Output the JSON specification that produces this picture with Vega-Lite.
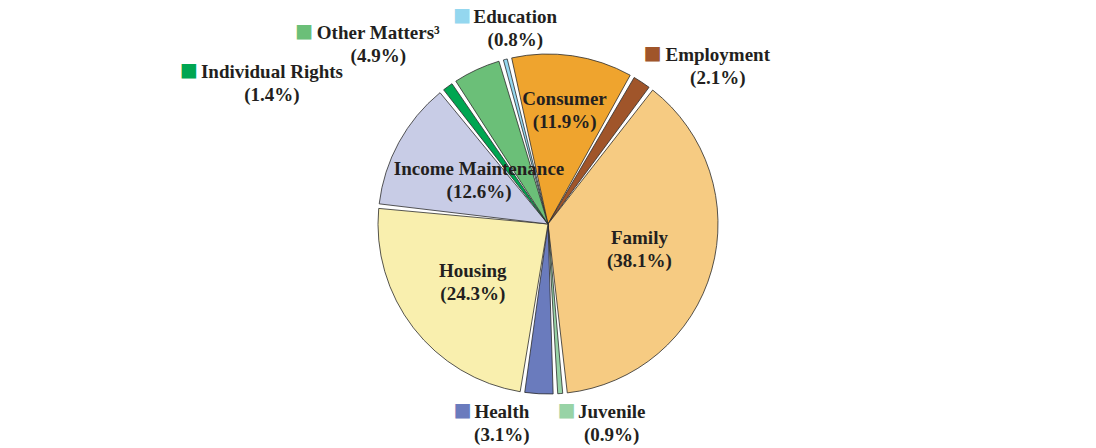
{
  "$schema": "https://vega.github.io/schema/vega-lite/v6.json",
  "width": 1096,
  "height": 448,
  "autosize": {"type": "none"},
  "padding": 0,
  "background": "white",
  "view": {"stroke": null},
  "config": {"text": {"font": "Liberation Serif", "fontWeight": "bold", "fontSize": 19, "color": "#231f20", "lineBreak": "\n", "lineHeight": 23, "align": "center", "baseline": "middle"}},
  "data": {"values": [
    {"idx": 1, "name": "Education", "value": 0.8},
    {"idx": 2, "name": "Consumer", "value": 11.9},
    {"idx": 3, "name": "Employment", "value": 2.1},
    {"idx": 4, "name": "Family", "value": 38.1},
    {"idx": 5, "name": "Juvenile", "value": 0.9},
    {"idx": 6, "name": "Health", "value": 3.1},
    {"idx": 7, "name": "Housing", "value": 24.3},
    {"idx": 8, "name": "Income Maintenance", "value": 12.6},
    {"idx": 9, "name": "Individual Rights", "value": 1.4},
    {"idx": 10, "name": "Other Matters³", "value": 4.9}
  ]},
  "transform": [
    {"stack": "value", "groupby": [], "sort": [{"field": "idx", "order": "ascending"}], "as": ["s0", "s1"]},
    {"calculate": "(datum.s0 + datum.s1) / 2", "as": "mid"},
    {"calculate": "datum.name + '\\n(' + format(datum.value, '.1f') + '%)'", "as": "label"}
  ],
  "encoding": {
    "theta": {"field": "mid", "type": "quantitative", "scale": {"domain": [0, 100.1], "range": [-0.279, 6.004]}}
  },
  "layer": [
    {
      "mark": {"type": "arc", "outerRadius": 170, "padAngle": 0.027, "stroke": "#2b2b2b", "strokeWidth": 0.8},
      "encoding": {
        "theta": {"field": "s0", "type": "quantitative", "scale": {"domain": [0, 100.1], "range": [-0.279, 6.004]}},
        "theta2": {"field": "s1"},
        "color": {"field": "name", "type": "nominal", "legend": null,
          "scale": {
            "domain": ["Education", "Consumer", "Employment", "Family", "Juvenile", "Health", "Housing", "Income Maintenance", "Individual Rights", "Other Matters³"],
            "range": ["#94d7ef", "#efa42e", "#a0552a", "#f6cb82", "#98d3a6", "#6a7bbd", "#f9efae", "#c8cce6", "#00a651", "#6bbf78"]
          }}
      }
    },
    {
      "transform": [{"filter": "datum.name == 'Consumer'"}],
      "mark": {"type": "text", "radius": 115, "dy": -11.5},
      "encoding": {"text": {"field": "label"}}
    },
    {
      "transform": [{"filter": "datum.name == 'Family' || datum.name == 'Housing'"}],
      "mark": {"type": "text", "radius": 95, "dy": -11.5},
      "encoding": {"text": {"field": "label"}}
    },
    {
      "transform": [{"filter": "datum.name == 'Income Maintenance'"}],
      "mark": {"type": "text", "radius": 90, "dx": 10, "dy": -11.5},
      "encoding": {"text": {"field": "label"}}
    },
    {
      "transform": [{"filter": "datum.name == 'Education'"}],
      "layer": [
        {"mark": {"type": "text", "radius": 190, "dx": 15, "dy": -23}, "encoding": {"text": {"field": "label"}}},
        {"mark": {"type": "text", "radius": 190, "dx": -38, "dy": -25, "font": "DejaVu Sans", "fontSize": 19, "color": "#94d7ef", "text": "■"}}
      ]
    },
    {
      "transform": [{"filter": "datum.name == 'Other Matters³'"}],
      "layer": [
        {"mark": {"type": "text", "radius": 190, "dx": -90, "dy": -18.5}, "encoding": {"text": {"field": "label"}}},
        {"mark": {"type": "text", "radius": 190, "dx": -164, "dy": -20.5, "font": "DejaVu Sans", "fontSize": 19, "color": "#6bbf78", "text": "■"}}
      ]
    },
    {
      "transform": [{"filter": "datum.name == 'Individual Rights'"}],
      "layer": [
        {"mark": {"type": "text", "radius": 190, "dx": -164, "dy": 1.3}, "encoding": {"text": {"field": "label"}}},
        {"mark": {"type": "text", "radius": 190, "dx": -247, "dy": -0.7, "font": "DejaVu Sans", "fontSize": 19, "color": "#00a651", "text": "■"}}
      ]
    },
    {
      "transform": [{"filter": "datum.name == 'Employment'"}],
      "layer": [
        {"mark": {"type": "text", "radius": 190, "dx": 65, "dy": -10.4}, "encoding": {"text": {"field": "label"}}},
        {"mark": {"type": "text", "radius": 190, "dx": 0, "dy": -12.4, "font": "DejaVu Sans", "fontSize": 19, "color": "#a0552a", "text": "■"}}
      ]
    },
    {
      "transform": [{"filter": "datum.name == 'Health'"}],
      "layer": [
        {"mark": {"type": "text", "radius": 190, "dx": -36, "dy": -1.7}, "encoding": {"text": {"field": "label"}}},
        {"mark": {"type": "text", "radius": 190, "dx": -75, "dy": -3.7, "font": "DejaVu Sans", "fontSize": 19, "color": "#6a7bbd", "text": "■"}}
      ]
    },
    {
      "transform": [{"filter": "datum.name == 'Juvenile'"}],
      "layer": [
        {"mark": {"type": "text", "radius": 190, "dx": 50, "dy": -1.5}, "encoding": {"text": {"field": "label"}}},
        {"mark": {"type": "text", "radius": 190, "dx": 5, "dy": -3.5, "font": "DejaVu Sans", "fontSize": 19, "color": "#98d3a6", "text": "■"}}
      ]
    }
  ]
}
